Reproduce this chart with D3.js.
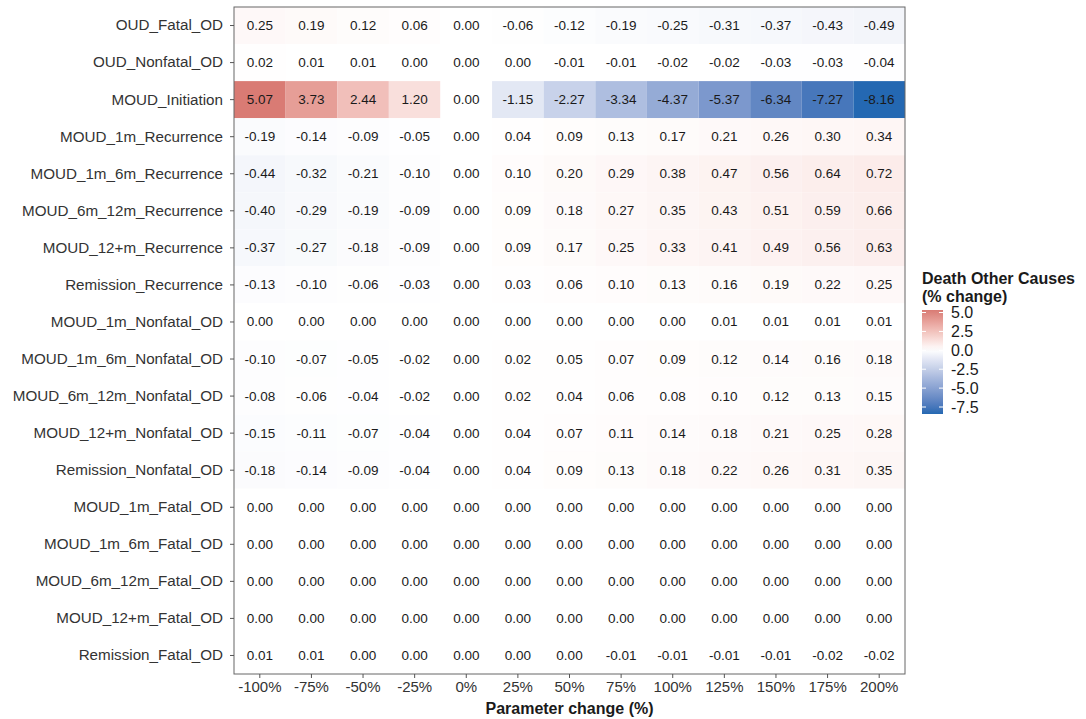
<!DOCTYPE html>
<html>
<head>
<meta charset="utf-8">
<script src="https://cdn.jsdelivr.net/npm/d3@7"></script>
<style>
  html, body { margin: 0; padding: 0; background: #fff; }
  svg { display: block; font-family: "Liberation Sans", Arial, sans-serif; }
</style>
</head>
<body>
<svg id="chart" width="1086" height="719"></svg>
<script>
// Model parameters (rows, top to bottom)
const parameters = [
  "OUD_Fatal_OD", "OUD_Nonfatal_OD", "MOUD_Initiation", "MOUD_1m_Recurrence",
  "MOUD_1m_6m_Recurrence", "MOUD_6m_12m_Recurrence", "MOUD_12+m_Recurrence",
  "Remission_Recurrence", "MOUD_1m_Nonfatal_OD", "MOUD_1m_6m_Nonfatal_OD",
  "MOUD_6m_12m_Nonfatal_OD", "MOUD_12+m_Nonfatal_OD", "Remission_Nonfatal_OD",
  "MOUD_1m_Fatal_OD", "MOUD_1m_6m_Fatal_OD", "MOUD_6m_12m_Fatal_OD",
  "MOUD_12+m_Fatal_OD", "Remission_Fatal_OD"
];

// Parameter change levels (columns)
const changes = ["-100%", "-75%", "-50%", "-25%", "0%", "25%", "50%", "75%", "100%", "125%", "150%", "175%", "200%"];

// % change in deaths from other causes, one row per parameter
const oudFatalOD            = [0.25, 0.19, 0.12, 0.06, 0.00, -0.06, -0.12, -0.19, -0.25, -0.31, -0.37, -0.43, -0.49];
const oudNonfatalOD         = [0.02, 0.01, 0.01, 0.00, 0.00, 0.00, -0.01, -0.01, -0.02, -0.02, -0.03, -0.03, -0.04];
const moudInitiation        = [5.07, 3.73, 2.44, 1.20, 0.00, -1.15, -2.27, -3.34, -4.37, -5.37, -6.34, -7.27, -8.16];
const moud1mRecurrence      = [-0.19, -0.14, -0.09, -0.05, 0.00, 0.04, 0.09, 0.13, 0.17, 0.21, 0.26, 0.30, 0.34];
const moud1m6mRecurrence    = [-0.44, -0.32, -0.21, -0.10, 0.00, 0.10, 0.20, 0.29, 0.38, 0.47, 0.56, 0.64, 0.72];
const moud6m12mRecurrence   = [-0.40, -0.29, -0.19, -0.09, 0.00, 0.09, 0.18, 0.27, 0.35, 0.43, 0.51, 0.59, 0.66];
const moud12mRecurrence     = [-0.37, -0.27, -0.18, -0.09, 0.00, 0.09, 0.17, 0.25, 0.33, 0.41, 0.49, 0.56, 0.63];
const remissionRecurrence   = [-0.13, -0.10, -0.06, -0.03, 0.00, 0.03, 0.06, 0.10, 0.13, 0.16, 0.19, 0.22, 0.25];
const moud1mNonfatalOD      = [0.00, 0.00, 0.00, 0.00, 0.00, 0.00, 0.00, 0.00, 0.00, 0.01, 0.01, 0.01, 0.01];
const moud1m6mNonfatalOD    = [-0.10, -0.07, -0.05, -0.02, 0.00, 0.02, 0.05, 0.07, 0.09, 0.12, 0.14, 0.16, 0.18];
const moud6m12mNonfatalOD   = [-0.08, -0.06, -0.04, -0.02, 0.00, 0.02, 0.04, 0.06, 0.08, 0.10, 0.12, 0.13, 0.15];
const moud12mNonfatalOD     = [-0.15, -0.11, -0.07, -0.04, 0.00, 0.04, 0.07, 0.11, 0.14, 0.18, 0.21, 0.25, 0.28];
const remissionNonfatalOD   = [-0.18, -0.14, -0.09, -0.04, 0.00, 0.04, 0.09, 0.13, 0.18, 0.22, 0.26, 0.31, 0.35];
const moud1mFatalOD         = [0, 0, 0, 0, 0, 0, 0, 0, 0, 0, 0, 0, 0];
const moud1m6mFatalOD       = [0, 0, 0, 0, 0, 0, 0, 0, 0, 0, 0, 0, 0];
const moud6m12mFatalOD      = [0, 0, 0, 0, 0, 0, 0, 0, 0, 0, 0, 0, 0];
const moud12mFatalOD        = [0, 0, 0, 0, 0, 0, 0, 0, 0, 0, 0, 0, 0];
const remissionFatalOD      = [0.01, 0.01, 0.00, 0.00, 0.00, 0.00, 0.00, -0.01, -0.01, -0.01, -0.01, -0.02, -0.02];

const rows = [
  oudFatalOD, oudNonfatalOD, moudInitiation, moud1mRecurrence, moud1m6mRecurrence,
  moud6m12mRecurrence, moud12mRecurrence, remissionRecurrence, moud1mNonfatalOD,
  moud1m6mNonfatalOD, moud6m12mNonfatalOD, moud12mNonfatalOD, remissionNonfatalOD,
  moud1mFatalOD, moud1m6mFatalOD, moud6m12mFatalOD, moud12mFatalOD, remissionFatalOD
];

const legendTicks = [5.0, 2.5, 0.0, -2.5, -5.0, -7.5];

// Long-form cells built from the arrays above
const cells = [];
parameters.forEach((p, i) => changes.forEach((c, j) => cells.push({ param: p, change: c, value: rows[i][j] })));

const svg = d3.select("#chart");
const panel = { left: 234, right: 905, top: 7, bottom: 674 };

const x = d3.scaleBand().domain(changes).range([panel.left, panel.right]).padding(0);
const y = d3.scaleBand().domain(parameters).range([panel.top, panel.bottom]).padding(0);

// Diverging fill centred on zero (extremes scaled by the largest magnitude)
const allVals = cells.map(d => d.value);
const vMin = d3.min(allVals), vMax = d3.max(allVals);
const lim = Math.max(Math.abs(vMin), Math.abs(vMax));
const color = d3.scaleLinear()
  .domain([-lim, 0, lim])
  .range(["#2468B2", "#ffffff", "#B2182B"])
  .interpolate(d3.interpolateLab);

// Tiles
svg.append("g").selectAll("rect").data(cells).join("rect")
  .attr("x", d => x(d.change))
  .attr("y", d => y(d.param))
  .attr("width", x.bandwidth())
  .attr("height", y.bandwidth())
  .attr("fill", d => color(d.value));

// Cell labels
svg.append("g").selectAll("text").data(cells).join("text")
  .attr("x", d => x(d.change) + x.bandwidth() / 2)
  .attr("y", d => y(d.param) + y.bandwidth() / 2)
  .attr("text-anchor", "middle")
  .attr("dominant-baseline", "central")
  .attr("font-size", 13.5)
  .attr("fill", "#1a1a1a")
  .text(d => d.value.toFixed(2));

// Panel border
svg.append("rect")
  .attr("x", panel.left).attr("y", panel.top)
  .attr("width", panel.right - panel.left).attr("height", panel.bottom - panel.top)
  .attr("fill", "none").attr("stroke", "#666").attr("stroke-width", 1);

// Axes
const yAxis = svg.append("g")
  .attr("transform", `translate(${panel.left},0)`)
  .call(d3.axisLeft(y).tickSize(4).tickPadding(7));
yAxis.select(".domain").remove();
yAxis.selectAll("line").attr("stroke", "#555");
yAxis.selectAll("text").attr("font-size", 15.2).attr("fill", "#333")
  .attr("font-family", "'Liberation Sans', Arial, sans-serif");

const xAxis = svg.append("g")
  .attr("transform", `translate(0,${panel.bottom})`)
  .call(d3.axisBottom(x).tickSize(4).tickPadding(3));
xAxis.select(".domain").remove();
xAxis.selectAll("line").attr("stroke", "#555");
xAxis.selectAll("text").attr("font-size", 15).attr("fill", "#333")
  .attr("font-family", "'Liberation Sans', Arial, sans-serif");

svg.append("text")
  .attr("x", (panel.left + panel.right) / 2)
  .attr("y", 714)
  .attr("text-anchor", "middle")
  .attr("font-size", 16).attr("font-weight", "bold").attr("fill", "#1a1a1a")
  .text("Parameter change (%)");

// Colour bar legend
const lg = { x: 922, w: 21, top: 310, bottom: 414 };
const ly = d3.scaleLinear().domain([vMax, vMin]).range([312, 412]);

const defs = svg.append("defs");
const grad = defs.append("linearGradient").attr("id", "legendGrad")
  .attr("x1", 0).attr("x2", 0).attr("y1", 0).attr("y2", 1);
d3.range(0, 21).forEach(k => {
  const v = vMax + (vMin - vMax) * k / 20;
  grad.append("stop").attr("offset", `${k * 5}%`).attr("stop-color", color(v));
});

svg.append("text")
  .attr("font-size", 16).attr("font-weight", "bold").attr("fill", "#1a1a1a")
  .selectAll("tspan").data(["Death Other Causes", "(% change)"]).join("tspan")
  .attr("x", 922).attr("y", (d, i) => 284 + i * 17.5).text(d => d);

svg.append("rect")
  .attr("x", lg.x).attr("y", lg.top).attr("width", lg.w).attr("height", lg.bottom - lg.top)
  .attr("fill", "url(#legendGrad)");

const lt = svg.append("g");
legendTicks.forEach(t => {
  lt.append("line").attr("x1", lg.x).attr("x2", lg.x + 4).attr("y1", ly(t)).attr("y2", ly(t)).attr("stroke", "#fff");
  lt.append("line").attr("x1", lg.x + lg.w - 4).attr("x2", lg.x + lg.w).attr("y1", ly(t)).attr("y2", ly(t)).attr("stroke", "#fff");
  lt.append("text").attr("x", 951).attr("y", ly(t))
    .attr("dominant-baseline", "central")
    .attr("font-size", 16).attr("fill", "#1a1a1a")
    .text(t.toFixed(1));
});
</script>
</body>
</html>
